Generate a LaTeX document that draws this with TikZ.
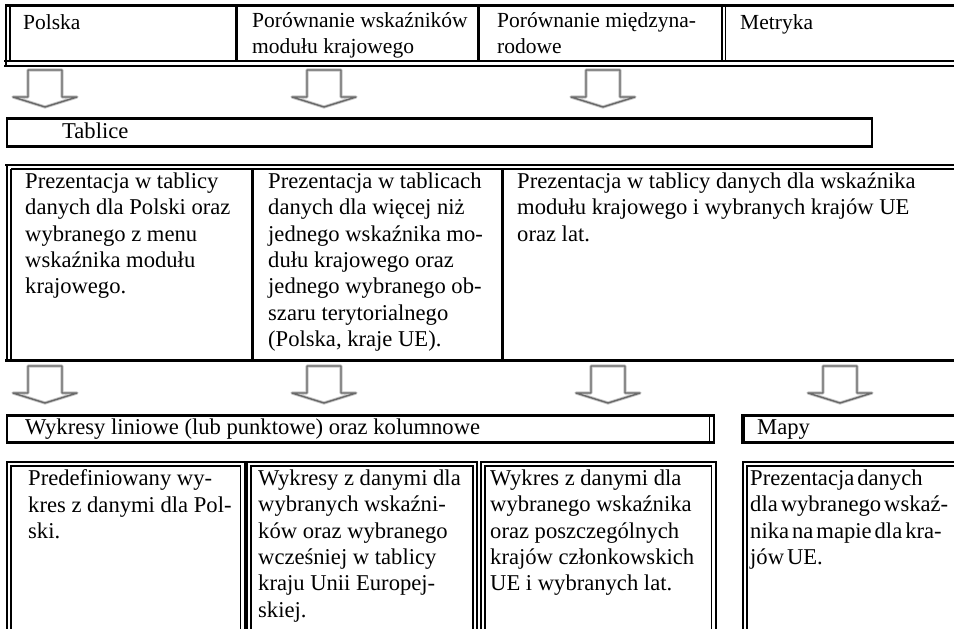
\documentclass[tikz,border=0pt]{standalone}
\usepackage{fontspec}
\setmainfont{Liberation Serif}
\usetikzlibrary{positioning}
\definecolor{mydark}{RGB}{0,0,0}
\definecolor{arrowgray}{RGB}{105,105,105}
\definecolor{arrowhalo}{RGB}{200,200,200}
\newcommand{\cellfont}{\fontsize{22.6}{26.4}\selectfont}
\newcommand{\headfont}{\fontsize{21.5}{26}\selectfont}
\newcommand{\mapfont}{\cellfont\spaceskip=3pt plus 1pt minus 1pt\relax}
\newcommand{\headstrut}{\rule[-6pt]{0pt}{27pt}}
\tikzset{
  heavy/.style={line width=3pt, color=mydark},
  medium/.style={line width=2.2pt, color=mydark},
  light/.style={line width=1.3pt, color=mydark},
  cell/.style={anchor=north west, align=left, inner sep=0pt,
    font=\cellfont, execute at begin node={\cellfont\strut}},
  headcell/.style={cell, font=\headfont, execute at begin node={\headfont\headstrut}},
  mapcell/.style={cell, font=\mapfont, execute at begin node={\mapfont\strut}},
  dnarrow/.pic={
    \draw[arrowhalo, line width=3.2pt, line join=round]
      (-17,0) -- (-17,27) -- (-32,27) -- (0,37) -- (32,27) -- (17,27) -- (17,0) -- cycle;
    \draw[arrowgray, line width=1.4pt, line join=round]
      (-17,0) -- (-17,27) -- (-32,27) -- (0,37) -- (32,27) -- (17,27) -- (17,0) -- cycle;
  }
}

\begin{document}
\begin{tikzpicture}[x=1pt, y=-1pt]
  \useasboundingbox (0,0) rectangle (954,629);
  \clip (0,0) rectangle (954,629);

  % first row: modules
  \draw[heavy] (5,5.5) -- (960,5.5);
  \draw[light] (4,61) -- (960,61);
  \draw[medium] (4,66) -- (960,66);
  \draw[line width=2pt] (6,4) -- (6,67);
  \draw[light] (10,7) -- (10,61);
  \draw[heavy] (236.5,7) -- (236.5,61);
  \draw[heavy] (478.5,7) -- (478.5,61);
  \draw[line width=1.1pt] (722,7) -- (722,61);
  \draw[line width=1.1pt] (725.5,7) -- (725.5,61);

  \node[headcell] (polska) at (23,8.5) {Polska};
  \node[headcell] (porkraj) at (252,12.5) {Porównanie wskaźników\\modułu krajowego};
  \node[headcell] (pormiedzy) at (497,12.5) {Porównanie międzyna-\\rodowe};
  \node[headcell] (metryka) at (740,8.5) {Metryka};

  \pic at (45,70) {dnarrow};
  \pic at (324,70) {dnarrow};
  \pic at (603,70) {dnarrow};

  % Tablice
  \draw[medium] (7,118.5) rectangle (872,146.5);
  \node[cell] (tablice) at (62,119.5) {Tablice};

  % second row: tables
  \draw[line width=2pt] (5,165) -- (960,165);
  \draw[light] (11,169) -- (960,169);
  \draw[line width=2pt] (7,164) -- (7,362);
  \draw[light] (11,169) -- (11,359);
  \draw[heavy] (252,169) -- (252,359);
  \draw[heavy] (502,169) -- (502,359);
  \draw[heavy] (5,360) -- (960,360);

  \node[cell] (tabpl) at (25,172.5) {Prezentacja w tablicy\\danych dla Polski oraz\\wybranego z menu\\wskaźnika modułu\\krajowego.};
  \node[cell] (tabwsk) at (268,172.5) {Prezentacja w tablicach\\danych dla więcej niż\\jednego wskaźnika mo-\\dułu krajowego oraz\\jednego wybranego ob-\\szaru terytorialnego\\(Polska, kraje UE).};
  \node[cell] (tabue) at (517,172.5) {Prezentacja w tablicy danych dla wskaźnika\\modułu krajowego i wybranych krajów UE\\oraz lat.};

  \pic at (45,366) {dnarrow};
  \pic at (324,366) {dnarrow};
  \pic at (608,366) {dnarrow};
  \pic at (840,366) {dnarrow};

  % Wykresy / Mapy
  \draw[medium] (7,415.5) rectangle (714,442.5);
  \draw[light] (709.5,415.5) -- (709.5,442.5);
  \node[cell] (wykresy) at (25,415.5) {Wykresy liniowe (lub punktowe) oraz kolumnowe};
  \draw[medium] (741,415.5) -- (960,415.5);
  \draw[medium] (741,442.5) -- (960,442.5);
  \draw[line width=4pt] (743,414.4) -- (743,443.6);
  \node[cell] (mapy) at (757,415.5) {Mapy};

  % third row: charts and maps
  \draw[line width=2pt] (7,462) rectangle (244.5,640);
  \draw[light] (11,466) rectangle (240.5,636);
  \draw[line width=2pt] (247,462) rectangle (477,640);
  \draw[light] (251,466) rectangle (473,636);
  \draw[line width=2pt] (481,462) rectangle (715.5,640);
  \draw[light] (485,466) rectangle (711.5,636);
  \draw[line width=2pt] (743,462) rectangle (970,640);
  \draw[light] (747,466) rectangle (966,636);

  \node[cell] (wykpl) at (28,469.5) {Predefiniowany wy-\\kres z danymi dla Pol-\\ski.};
  \node[cell] (wykwsk) at (258,469.5) {Wykresy z danymi dla\\wybranych wskaźni-\\ków oraz wybranego\\wcześniej w tablicy\\kraju Unii Europej-\\skiej.};
  \node[cell] (wykue) at (490,469.5) {Wykres z danymi dla\\wybranego wskaźnika\\oraz poszczególnych\\krajów członkowskich\\UE i wybranych lat.};
  \node[mapcell] (mapue) at (750,469.5) {Prezentacja danych\\dla wybranego wskaź-\\nika na mapie dla kra-\\jów UE.};
\end{tikzpicture}
\end{document}
